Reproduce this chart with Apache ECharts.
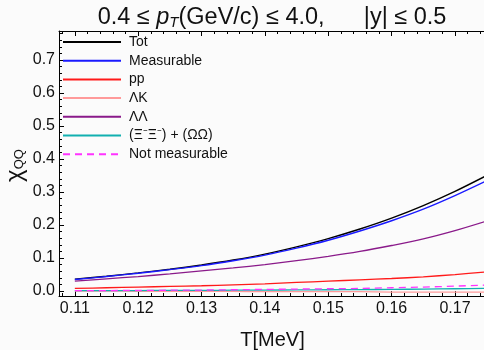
<!DOCTYPE html>
<html>
<head>
<meta charset="utf-8">
<script src="https://cdn.jsdelivr.net/npm/echarts@6/dist/echarts.min.js"></script>
<style>
  html, body { margin: 0; padding: 0; background: #fbfbfb; }
  #chart { width: 484px; height: 350px; }
</style>
</head>
<body>
<div id="chart"></div>
<script>
// temperature grid
const temps = [0.110, 0.115, 0.120, 0.125, 0.130, 0.135, 0.140, 0.145, 0.150, 0.155, 0.160, 0.165, 0.170, 0.175];

const tot        = [0.036, 0.045, 0.055, 0.066, 0.079, 0.094, 0.112, 0.134, 0.159, 0.188, 0.221, 0.259, 0.302, 0.350];
const measurable = [0.035, 0.044, 0.054, 0.065, 0.077, 0.092, 0.109, 0.130, 0.154, 0.182, 0.213, 0.248, 0.289, 0.334];
const pp         = [0.008, 0.010, 0.012, 0.014, 0.016, 0.019, 0.022, 0.026, 0.030, 0.034, 0.038, 0.043, 0.050, 0.058];
const lambdaK    = [0.000, 0.000, -0.001, -0.001, -0.001, -0.001, -0.002, -0.002, -0.002, -0.002, -0.003, -0.003, -0.003, -0.003];
const lambdaL    = [0.030, 0.037, 0.044, 0.052, 0.061, 0.070, 0.080, 0.092, 0.105, 0.120, 0.138, 0.158, 0.183, 0.212];
const xiOmega    = [0.001, 0.001, 0.0015, 0.002, 0.002, 0.0025, 0.003, 0.0035, 0.004, 0.0045, 0.005, 0.006, 0.007, 0.008];
const notMeas    = [0.001, 0.0015, 0.002, 0.0025, 0.003, 0.004, 0.005, 0.006, 0.007, 0.008, 0.010, 0.012, 0.015, 0.018];

const xLabels = [0.11, 0.12, 0.13, 0.14, 0.15, 0.16, 0.17];
const xMinor = [];
for (let v = 108; v <= 174; v += 2) xMinor.push(v / 1000);
const yLabels = [0, 0.1, 0.2, 0.3, 0.4, 0.5, 0.6, 0.7];
const yMinor = [];
for (let v = 0; v <= 78; v += 2) yMinor.push(v / 100);

const X_MIN = 0.1075, X_MAX = 0.1749;
const Y_MIN = -0.015, Y_MAX = 0.788;
const FONT = 'Liberation Sans, Arial, sans-serif';

const pairs = ys => temps.map((t, i) => [t, ys[i]]);

const chart = echarts.init(document.getElementById('chart'));

function xAxis(position, values, len, labels, line) {
  return {
    type: 'value', position: position, min: X_MIN, max: X_MAX,
    axisLine: { show: line, onZero: false, lineStyle: { color: '#000', width: 1 } },
    axisTick: { show: true, inside: true, length: len, customValues: values, lineStyle: { color: '#000' } },
    axisLabel: labels ? { show: true, customValues: xLabels, fontFamily: FONT, fontSize: 16, color: '#111', margin: 5,
      formatter: v => v.toFixed(2) } : { show: false },
    splitLine: { show: false }
  };
}

function yAxis(values, len, labels) {
  return {
    type: 'value', position: 'left', min: Y_MIN, max: Y_MAX,
    axisLine: { show: labels, onZero: false, lineStyle: { color: '#000', width: 1 } },
    axisTick: { show: true, inside: true, length: len, customValues: values, lineStyle: { color: '#000' } },
    axisLabel: labels ? { show: true, customValues: yLabels, fontFamily: FONT, fontSize: 16, color: '#111', margin: 4,
      formatter: v => v.toFixed(1) } : { show: false },
    splitLine: { show: false },
    name: labels ? '{chi|χ}{sub|QQ}' : '',
    nameLocation: 'middle', nameGap: 32, nameRotate: 90, nameMoveOverlap: false,
    nameTextStyle: {
      padding: [0, 4, 0, 0],
      rich: {
        chi: { fontFamily: FONT, fontSize: 24, color: '#111' },
        sub: { fontFamily: FONT, fontSize: 13, color: '#111', padding: [9, 0, 0, 0] }
      }
    }
  };
}

function line(name, data, color, width, dashed) {
  return {
    name: name, type: 'line', data: pairs(data), xAxisIndex: 0, yAxisIndex: 0,
    smooth: 0.3, symbol: 'none', clip: true,
    lineStyle: { color: color, width: width, type: dashed ? [7, 5] : 'solid' },
    itemStyle: { color: color }
  };
}

chart.setOption({
  backgroundColor: '#fbfbfb',
  animation: false,
  title: {
    text: '{n|0.4 ≤ }{i|p}{s|T}{n|(GeV/c) ≤ 4.0,      |y| ≤ 0.5}',
    left: 272, top: 5, textAlign: 'center', padding: 0,
    textStyle: {
      rich: {
        n: { fontFamily: FONT, fontSize: 23.5, fontWeight: 'normal', color: '#111' },
        i: { fontFamily: FONT, fontSize: 23.5, fontWeight: 'normal', fontStyle: 'italic', color: '#111' },
        s: { fontFamily: FONT, fontSize: 15, fontWeight: 'normal', fontStyle: 'italic', color: '#111', padding: [10, 0, 0, 0] }
      }
    }
  },
  legend: {
    orient: 'vertical', left: 62, top: 35, padding: 0,
    itemWidth: 58, itemHeight: 14, itemGap: 4.7,
    itemStyle: { opacity: 0 },
    textStyle: { fontFamily: FONT, fontSize: 14, color: '#111', padding: [0, 0, 0, 3] },
    data: ['Tot', 'Measurable', 'pp', 'ΛK', 'ΛΛ', '(Ξ⁻Ξ⁻) + (ΩΩ)', 'Not measurable']
  },
  grid: { left: 59, top: 31, width: 427, height: 265, containLabel: false, outerBoundsMode: 'none' },
  xAxis: [
    Object.assign(xAxis('bottom', xLabels, 5, true, true), {
      name: 'T[MeV]', nameLocation: 'middle', nameGap: 34, nameMoveOverlap: false,
      nameTextStyle: { fontFamily: FONT, fontSize: 20, color: '#111' }
    }),
    xAxis('bottom', xMinor, 3, false, false),
    xAxis('top', xLabels, 5, false, true),
    xAxis('top', xMinor, 3, false, false)
  ],
  yAxis: [yAxis(yLabels, 5, true), yAxis(yMinor, 3, false)],
  series: [
    line('Tot', tot, '#000000', 1.4),
    line('Measurable', measurable, '#1a1aff', 1.4),
    line('pp', pp, '#ff1a1a', 1.3),
    line('ΛK', lambdaK, '#ff9a9a', 1.3),
    line('ΛΛ', lambdaL, '#8a1a8a', 1.3),
    line('(Ξ⁻Ξ⁻) + (ΩΩ)', xiOmega, '#12b0b0', 1.3),
    line('Not measurable', notMeas, '#ff33ff', 1.3, true)
  ]
});
</script>
</body>
</html>
